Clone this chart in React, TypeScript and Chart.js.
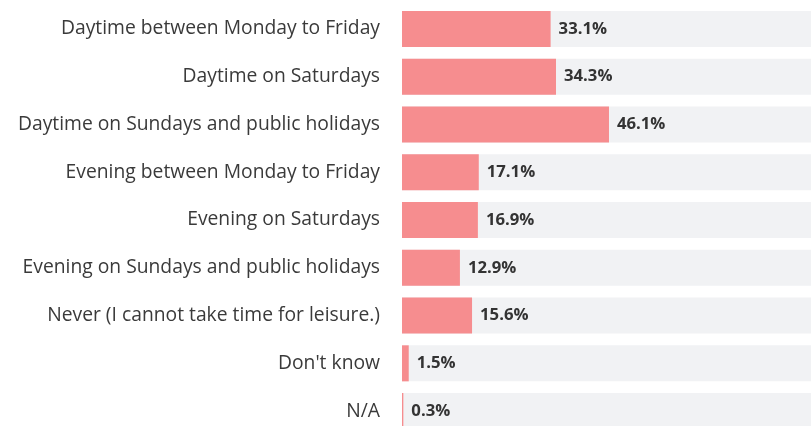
import React, { useEffect, useRef } from "react";
import { Chart, registerables } from "chart.js";

Chart.register(...registerables);

const categories = [
  "Daytime between Monday to Friday",
  "Daytime on Saturdays",
  "Daytime on Sundays and public holidays",
  "Evening between Monday to Friday",
  "Evening on Saturdays",
  "Evening on Sundays and public holidays",
  "Never (I cannot take time for leisure.)",
  "Don't know",
  "N/A",
];
const values = [33.1, 34.3, 46.1, 17.1, 16.9, 12.9, 15.6, 1.5, 0.3];
const trackValues = [100, 100, 100, 100, 100, 100, 100, 100, 100];

const valueLabelPlugin = {
  id: "valueLabels",
  afterDatasetsDraw(chart: any) {
    const meta = chart.getDatasetMeta(1);
    const ctx = chart.ctx;
    ctx.save();
    ctx.font = "bold 16.7px 'Open Sans'";
    ctx.fillStyle = "#333333";
    ctx.textBaseline = "middle";
    ctx.textAlign = "left";
    meta.data.forEach((bar: any, i: number) => {
      ctx.fillText(values[i].toFixed(1) + "%", bar.x + 8, bar.y);
    });
    ctx.restore();
  },
};

export default function App() {
  const ref = useRef<HTMLCanvasElement>(null);
  useEffect(() => {
    if (!ref.current) return;
    const chart = new Chart(ref.current, {
      type: "bar",
      data: {
        labels: categories,
        datasets: [
          {
            label: "track",
            data: trackValues,
            backgroundColor: "#F1F2F4",
            order: 2,
            grouped: false,
            categoryPercentage: 1,
            barPercentage: 0.754,
          } as any,
          {
            label: "value",
            data: values,
            backgroundColor: "#F68D8F",
            order: 1,
            grouped: false,
            categoryPercentage: 1,
            barPercentage: 0.754,
          } as any,
        ],
      },
      options: {
        indexAxis: "y",
        animation: false,
        responsive: false,
        maintainAspectRatio: false,
        layout: { padding: { top: 5, bottom: 5, left: 0, right: 9 } },
        plugins: {
          legend: { display: false },
          tooltip: { enabled: false },
        },
        scales: {
          x: { display: false, min: 0, max: 100 },
          y: {
            grid: { display: false },
            border: { display: false },
            ticks: {
              color: "#3a3a3a",
              padding: 14,
              font: { family: "'Open Sans'", size: 19.3 },
            },
            afterFit(scale: any) {
              scale.width = 402;
              scale.paddingTop = 0;
              scale.paddingBottom = 0;
            },
          },
        },
      },
      plugins: [valueLabelPlugin],
    });
    return () => chart.destroy();
  }, []);
  return (
    <div
      style={{
        position: "fixed",
        left: 0,
        top: 0,
        width: 811,
        height: 426,
        overflow: "hidden",
        background: "#ffffff",
      }}
    >
      <canvas ref={ref} width={860} height={440} style={{ display: "block" }} />
    </div>
  );
}
